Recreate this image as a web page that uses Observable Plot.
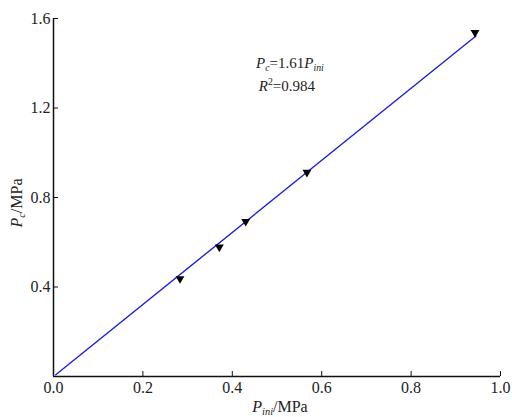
<!DOCTYPE html>
<html><head><meta charset="utf-8">
<script src="https://cdn.jsdelivr.net/npm/d3@7"></script>
<script src="https://cdn.jsdelivr.net/npm/@observablehq/plot@0.6"></script>
<style>
body{margin:0;background:#fff;}
svg, svg text, svg g{font-family:"Liberation Serif","Times New Roman",serif !important;}
</style>
</head><body>
<div id="chart"></div>
<script>
const pini = [0.283, 0.371, 0.430, 0.567, 0.943];
const pc = [0.437, 0.578, 0.693, 0.912, 1.537];
const slope = 1.61;
const r2 = 0.984;
const fitX = [0.005, 0.945];
const xTicks = [0, 0.2, 0.4, 0.6, 0.8, 1.0];
const yTicks = [0.4, 0.8, 1.2, 1.6];

const pts = pini.map((x, i) => ({x, y: pc[i]}));
const fit = fitX.map(x => ({x, y: slope * x}));

const plot = Plot.plot({
  width: 512, height: 417,
  marginLeft: 53, marginRight: 12, marginTop: 18, marginBottom: 41,
  style: {fontFamily: '"Liberation Serif", "Times New Roman", serif', fontSize: "16px", color: "#222", background: "#fff"},
  x: {domain: [0, 1], label: null},
  y: {domain: [0, 1.6], label: null},
  marks: [
    Plot.axisX({ticks: xTicks, tickFormat: d3.format(".1f"), tickSize: -5, tickPadding: 10, fontSize: 16, stroke: "#111", label: null}),
    Plot.axisY({ticks: yTicks, tickFormat: d3.format(".1f"), tickSize: -5, tickPadding: 8, fontSize: 16, stroke: "#111", label: null}),
    Plot.ruleY([0], {stroke: "#111", strokeWidth: 1.5}),
    Plot.ruleX([0], {stroke: "#111", strokeWidth: 1.5}),
    Plot.line(fit, {x: "x", y: "y", stroke: "#1f1fdc", strokeWidth: 1.4}),
    Plot.dot(pts, {x: "x", y: "y", symbol: "triangle", rotate: 180, r: 3.3, fill: "#000", stroke: "none"})
  ]
});
document.getElementById("chart").appendChild(plot);

const svg = d3.select(plot);
const sx = plot.scale("x"), sy = plot.scale("y");

function richText(parent, x, y, parts, opts = {}) {
  const size = opts.size || 15;
  const t = parent.append("text").attr("x", x).attr("y", y)
    .attr("text-anchor", opts.anchor || "middle")
    .attr("font-family", '"Liberation Serif", serif')
    .attr("font-size", size).attr("fill", "#222");
  if (opts.rotate) t.attr("transform", `rotate(${opts.rotate},${x},${y})`);
  for (const p of parts) {
    const s = t.append("tspan").text(p.t);
    if (p.i) s.attr("font-style", "italic");
    if (p.sub) s.attr("font-size", size * 0.65).attr("dy", 3);
    if (p.sup) s.attr("font-size", size * 0.65).attr("dy", -6);
    if (p.back) s.attr("dy", p.back);
  }
  return t;
}

// annotation
const ax = sx.apply(0.53);
richText(svg, ax, sy.apply(1.375), [
  {t: "P", i: true}, {t: "c", i: true, sub: true}, {t: "=1.61", back: -3},
  {t: "P", i: true}, {t: "ini", i: true, sub: true}
], {size: 15});
richText(svg, ax - 3, sy.apply(1.275), [
  {t: "R", i: true}, {t: "2", sup: true}, {t: "=0.984", back: 6}
], {size: 15});

// axis labels
richText(svg, 280, 412, [
  {t: "P", i: true}, {t: "ini", i: true, sub: true}, {t: "/MPa", back: -3}
], {size: 16});
richText(svg, 22, 203, [
  {t: "P", i: true}, {t: "c", i: true, sub: true}, {t: "/MPa", back: -3}
], {size: 16, rotate: -90});
</script>
</body></html>
